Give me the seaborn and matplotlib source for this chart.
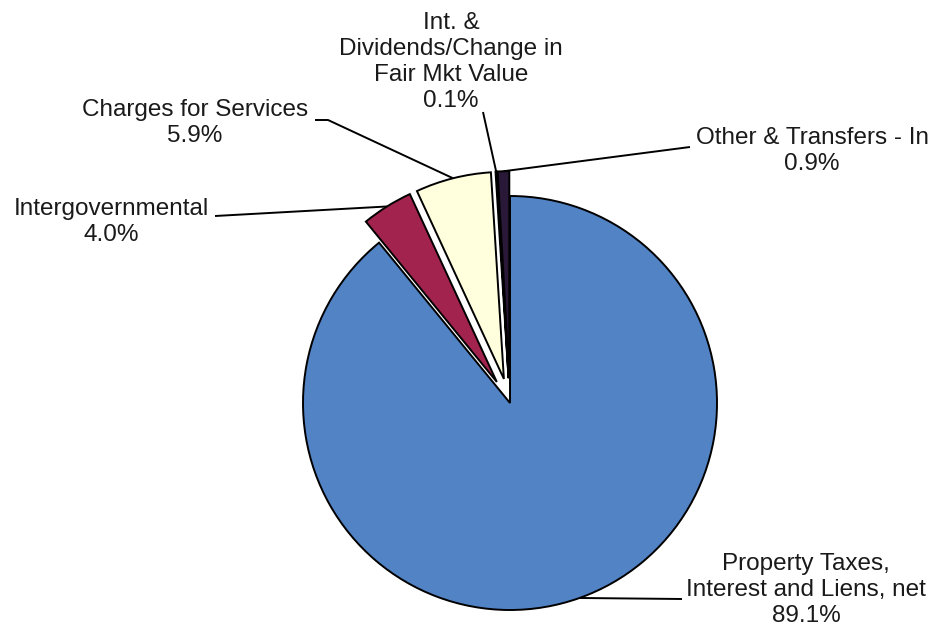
import numpy as np
import matplotlib
matplotlib.use("Agg")
import matplotlib.pyplot as plt
import seaborn as sns

# Revenue sources, in drawing order (clockwise from 12 o'clock)
categories = [
    "Property Taxes,\nInterest and Liens, net",
    "Intergovernmental",
    "Charges for Services",
    "Int. &\nDividends/Change in\nFair Mkt Value",
    "Other & Transfers - In",
]
shares = [89.1, 4.0, 5.9, 0.1, 0.9]
pct_labels = ["89.1%", "4.0%", "5.9%", "0.1%", "0.9%"]
colors = ["#5283C5", "#A3234F", "#FFFFDD", "#CCFFFF", "#2A1838"]
explode = [0.0, 0.12, 0.12, 0.12, 0.12]

sns.set_theme(style="white")
plt.rcParams["font.family"] = ["Liberation Sans", "DejaVu Sans"]

W, H = 935, 635
CX, CY, R = 510, 403, 207  # pie centre and radius in pixels


def to_data(px, py):
    return (px - CX) / R, (CY - py) / R


fig = plt.figure(figsize=(W / 100, H / 100), dpi=100)
fig.patch.set_facecolor("white")
ax = fig.add_axes([0, 0, 1, 1])

wedges, _ = ax.pie(
    shares,
    colors=colors,
    explode=explode,
    startangle=90,
    counterclock=False,
    radius=1.0,
    wedgeprops=dict(edgecolor="black", linewidth=1.4),
)
ax.set_xlim(-CX / R, (W - CX) / R)
ax.set_ylim(-(H - CY) / R, CY / R)
ax.set_aspect("equal")
ax.axis("off")

# label block centres and the text-side end of each leader (pixels)
label_pos = [(806, 590), (111, 222), (195, 123), (451, 62), (812, 151)]
leader_end = [
    [(682, 599)],
    [(215, 216)],
    [(328, 120), (315, 120)],
    [(483, 112)],
    [(690, 147)],
]

for i, w in enumerate(wedges):
    mid = np.deg2rad((w.theta1 + w.theta2) / 2)
    cx, cy = w.center
    r = w.r
    sx, sy = cx + r * np.cos(mid), cy + r * np.sin(mid)
    pts = [(sx, sy)] + [to_data(*p) for p in leader_end[i]]
    xs, ys = zip(*pts)
    ax.plot(xs, ys, color="black", lw=1.4, solid_capstyle="butt", zorder=5)
    tx, ty = to_data(*label_pos[i])
    ax.text(tx, ty, f"{categories[i]}\n{pct_labels[i]}", ha="center", va="center",
            multialignment="center", fontsize=17.5, color="#1a1a1a", linespacing=1.22)

fig.savefig("out.png", dpi=100, facecolor="white")
